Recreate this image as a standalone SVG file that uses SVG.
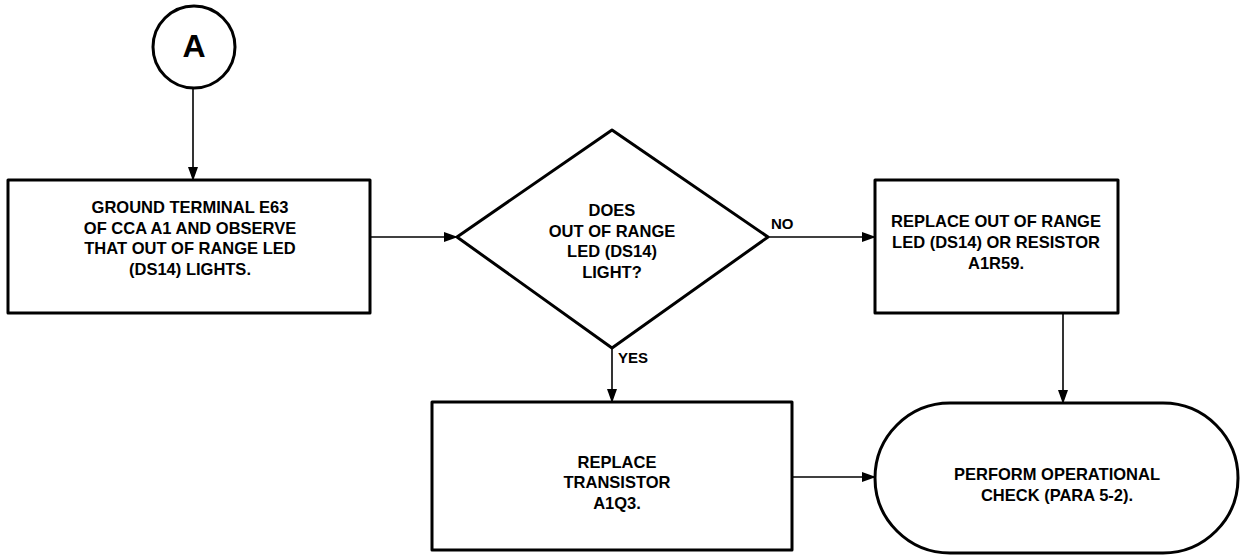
<svg xmlns="http://www.w3.org/2000/svg" width="1241" height="557" viewBox="0 0 1241 557">
<style>
.shape{fill:#fff;stroke:#000;stroke-width:3;stroke-linejoin:round}
.conn{stroke:#000;stroke-width:1.6;fill:none}
text{font-family:"Liberation Sans",Arial,sans-serif;font-size:16.5px;font-weight:bold;fill:#000;text-anchor:middle}
.lbl{text-anchor:start;font-size:15px}
.big{font-size:32px;font-weight:bold}
</style>
<defs>
<marker id="arr" markerWidth="14" markerHeight="10" refX="13" refY="5" orient="auto" markerUnits="userSpaceOnUse">
<path d="M0,0 L14,5 L0,10 Z" fill="#000"/>
</marker>
</defs>
<rect width="1241" height="557" fill="#fff"/>
<g id="connectors">
<line class="conn" x1="193" y1="88" x2="193" y2="180" marker-end="url(#arr)"/>
<line class="conn" x1="370" y1="237" x2="457" y2="237" marker-end="url(#arr)"/>
<line class="conn" x1="768" y1="237" x2="875" y2="237" marker-end="url(#arr)"/>
<line class="conn" x1="612" y1="348" x2="612" y2="402" marker-end="url(#arr)"/>
<line class="conn" x1="1063" y1="313" x2="1063" y2="403" marker-end="url(#arr)"/>
<line class="conn" x1="792" y1="477" x2="875" y2="477" marker-end="url(#arr)"/>
<text class="lbl" x="771" y="229">NO</text>
<text class="lbl" x="618" y="363">YES</text>
</g>
<g id="nodeA">
<circle class="shape" cx="194" cy="47" r="41"/>
<text class="big" x="194" y="57">A</text>
</g>
<g id="ground">
<rect class="shape" x="8" y="180" width="362" height="133"/>
<text x="190" y="213">GROUND TERMINAL E63</text>
<text x="190" y="234">OF CCA A1 AND OBSERVE</text>
<text x="190" y="254">THAT OUT OF RANGE LED</text>
<text x="190" y="275">(DS14) LIGHTS.</text>
</g>
<g id="decision">
<polygon class="shape" points="612,130 768,237 612,348 457,237"/>
<text x="612" y="216">DOES</text>
<text x="612" y="237">OUT OF RANGE</text>
<text x="612" y="257">LED (DS14)</text>
<text x="612" y="278">LIGHT?</text>
</g>
<g id="replaceLed">
<rect class="shape" x="875" y="180" width="243" height="133"/>
<text x="996" y="227">REPLACE OUT OF RANGE</text>
<text x="996" y="248">LED (DS14) OR RESISTOR</text>
<text x="996" y="269">A1R59.</text>
</g>
<g id="replaceTransistor">
<rect class="shape" x="432" y="402" width="360" height="148"/>
<text x="617" y="468">REPLACE</text>
<text x="617" y="488">TRANSISTOR</text>
<text x="617" y="509">A1Q3.</text>
</g>
<g id="perform">
<rect class="shape" x="875" y="403" width="363" height="150" rx="75" ry="75"/>
<text x="1057" y="480">PERFORM OPERATIONAL</text>
<text x="1057" y="501">CHECK (PARA 5-2).</text>
</g>
</svg>
